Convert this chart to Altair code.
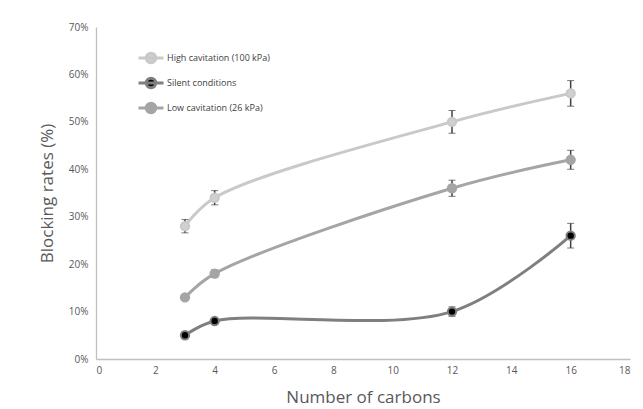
import altair as alt
import pandas as pd

carbons = [3, 4, 12, 16]
series_names = ["High cavitation (100 kPa)", "Silent conditions", "Low cavitation (26 kPa)"]
high = [28, 34, 50, 56]
high_err = [1.4, 1.5, 2.4, 2.7]
silent = [5, 8, 10, 26]
silent_err = [0.4, 0.6, 1.0, 2.6]
low = [13, 18, 36, 42]
low_err = [0.4, 0.8, 1.7, 2.0]

line_colors = ["#c9c9c9", "#7f7f7f", "#a5a5a5"]
fill_colors = ["#d0d0d0", "#000000", "#a5a5a5"]

rows = []
for name, vals, errs in zip(series_names, [high, silent, low], [high_err, silent_err, low_err]):
    for i, (c, v, e) in enumerate(zip(carbons, vals, errs)):
        rows.append({"series": name, "carbons": c, "rate": v, "lo": v - e, "hi": v + e, "order": i})
df = pd.DataFrame(rows)

FONT = "Open Sans"
sym_path = "M-1,0L1,0M-0.38,0A0.38,0.38,0,1,0,0.38,0A0.38,0.38,0,1,0,-0.38,0Z"
legend = alt.Legend(
    title=None, orient="none", legendX=41, legendY=17, padding=0,
    symbolType=sym_path, symbolSize=625, symbolStrokeWidth=3,
    labelFont=FONT, labelFontSize=9, labelColor="#404040", labelOffset=2,
    rowPadding=-3,
)

x_enc = alt.X("carbons:Q", scale=alt.Scale(domain=[0, 18], nice=False),
              axis=alt.Axis(values=list(range(0, 19, 2)), title="Number of carbons"))
y_enc = alt.Y("rate:Q", scale=alt.Scale(domain=[0, 70], nice=False),
              axis=alt.Axis(values=list(range(0, 71, 10)), labelExpr="datum.value + '%'",
                            title="Blocking rates (%)"))

stroke_enc = alt.Stroke("series:N", scale=alt.Scale(domain=series_names, range=line_colors), legend=legend)
fill_enc = alt.Fill("series:N", scale=alt.Scale(domain=series_names, range=fill_colors), legend=legend)

base = alt.Chart(df)
lines = base.mark_line(interpolate="catmull-rom", strokeWidth=3).encode(
    x=x_enc, y=y_enc, stroke=stroke_enc, order="order:Q"
)
errs = base.mark_errorbar(
    ticks=alt.MarkConfig(size=7, strokeWidth=1.5, color="#404040"),
    rule=alt.MarkConfig(strokeWidth=1.5, color="#404040"),
).encode(
    x="carbons:Q", y=alt.Y("lo:Q", title="Blocking rates (%)"), y2="hi:Q"
)
points = base.mark_point(filled=False, size=70, strokeWidth=2, opacity=1).encode(
    x="carbons:Q", y="rate:Q", stroke=stroke_enc, fill=fill_enc
)

chart = alt.layer(lines, errs, points).properties(
    width=534, height=332,
    autosize=alt.AutoSizeParams(type="none"),
    padding={"left": 88, "top": 19, "right": 5, "bottom": 50},
).configure_view(stroke=None).configure_axis(
    grid=False, ticks=False, domainColor="#bfbfbf", domainWidth=1.3,
    labelFont=FONT, labelFontSize=10, labelColor="#595959",
    titleFont=FONT, titleFontSize=17, titleColor="#595959", titleFontWeight="normal",
).configure_axisX(labelPadding=6, titlePadding=14).configure_axisY(labelPadding=8, titlePadding=12)

chart.save("out.html", embed_options={"renderer": "svg", "actions": False})
